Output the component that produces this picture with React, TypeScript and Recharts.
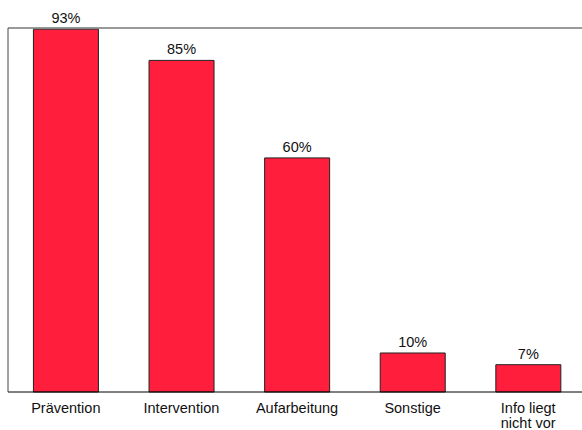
import React from 'react'
import { BarChart, Bar, XAxis, YAxis, LabelList, ReferenceLine } from 'recharts'

const categories = ['Prävention', 'Intervention', 'Aufarbeitung', 'Sonstige', 'Info liegt nicht vor']
const tickLines = [['Prävention'], ['Intervention'], ['Aufarbeitung'], ['Sonstige'], ['Info liegt', 'nicht vor']]
const shares = [93, 85, 60, 10, 7]

const data = categories.map((name, i) => ({ name, value: shares[i], idx: i }))

const FONT = '"Liberation Sans", Arial, sans-serif'

function CategoryTick(props: any) {
  const { x, y, index } = props
  const lines = tickLines[index] || [categories[index]]
  return (
    <g transform={`translate(${x},${y})`}>
      {lines.map((line: string, i: number) => (
        <text
          key={i}
          x={0}
          y={13 + i * 15}
          textAnchor="middle"
          fontSize={14.5}
          fontFamily={FONT}
          fill="#111"
        >
          {line}
        </text>
      ))}
    </g>
  )
}

export default function App() {
  return (
    <div style={{ width: 582, height: 430, overflow: 'hidden', position: 'relative', background: '#fff' }}>
      <style>{`body{margin:0;overflow:hidden}`}</style>
      <BarChart
        width={590}
        height={430}
        data={data}
        margin={{ top: 28, right: 4, left: 7, bottom: 0 }}
        barCategoryGap="22%"
      >
        <XAxis
          dataKey="name"
          axisLine={{ stroke: '#000', strokeWidth: 1 }}
          tickLine={false}
          height={38}
          interval={0}
          tick={<CategoryTick />}
        />
        <YAxis
          width={1}
          domain={[0, 93.3]}
          tick={false}
          tickLine={false}
          axisLine={{ stroke: '#444', strokeWidth: 1 }}
        />
        <ReferenceLine y={93.3} stroke="#777" strokeWidth={1.5} />
        <Bar dataKey="value" fill="#FF1E3C" stroke="#222" strokeWidth={1} isAnimationActive={false}>
          <LabelList
            dataKey="value"
            position="top"
            offset={6}
            formatter={(v: any) => `${v}%`}
            style={{ fontSize: 14.5, fontFamily: FONT, fill: '#111' }}
          />
        </Bar>
      </BarChart>
    </div>
  )
}
